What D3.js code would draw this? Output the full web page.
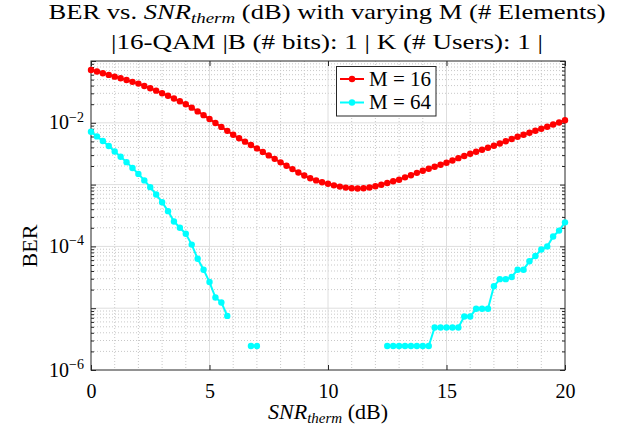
<!DOCTYPE html>
<html>
<head>
<meta charset="utf-8">
<script src="https://cdn.jsdelivr.net/npm/d3@7"></script>
<style>
	body { margin: 0; background: #fff; }
	text { font-family: "Liberation Serif", "DejaVu Serif", serif; fill: #000; }
</style>
</head>
<body>
<svg class="chart"></svg>
<script>

// SNR_therm (dB), one point every 0.25 dB
var snrValues = [
	0, 0.25, 0.5, 0.75, 1, 1.25, 1.5, 1.75, 2, 2.25, 2.5, 2.75, 3, 3.25, 3.5, 3.75,
	4, 4.25, 4.5, 4.75, 5, 5.25, 5.5, 5.75, 6, 6.25, 6.5, 6.75, 7, 7.25, 7.5, 7.75,
	8, 8.25, 8.5, 8.75, 9, 9.25, 9.5, 9.75, 10, 10.25, 10.5, 10.75, 11, 11.25, 11.5, 11.75,
	12, 12.25, 12.5, 12.75, 13, 13.25, 13.5, 13.75, 14, 14.25, 14.5, 14.75, 15, 15.25, 15.5, 15.75,
	16, 16.25, 16.5, 16.75, 17, 17.25, 17.5, 17.75, 18, 18.25, 18.5, 18.75, 19, 19.25, 19.5, 19.75, 20
];

// BER for M = 16
var berM16 = [
	0.0716, 0.0676, 0.0635, 0.0596, 0.0558, 0.0525, 0.0492, 0.0460, 0.0431, 0.0395, 0.0362, 0.0331,
	0.0301, 0.0274, 0.0247, 0.0223, 0.0200, 0.0176, 0.0153, 0.0133, 0.0115, 0.00993, 0.00859, 0.00741,
	0.00640, 0.00562, 0.00495, 0.00437, 0.00385, 0.00338, 0.00297, 0.00261, 0.00229, 0.00202, 0.00178, 0.00157,
	0.00140, 0.00127, 0.00117, 0.00109, 0.00103, 0.000973, 0.000929, 0.000895, 0.000871, 0.000863, 0.000871, 0.000896,
	0.000940, 0.000993, 0.00106, 0.00113, 0.00120, 0.00131, 0.00142, 0.00155, 0.00168, 0.00181, 0.00195, 0.00210,
	0.00226, 0.00246, 0.00268, 0.00291, 0.00316, 0.00340, 0.00366, 0.00395, 0.00426, 0.00462, 0.00504, 0.00547,
	0.00594, 0.00640, 0.00690, 0.00743, 0.00800, 0.00865, 0.00938, 0.0101, 0.0110
];

// BER for M = 64 (null = no errors counted, not drawn on log axis)
var berM64 = [
	7.16e-3, 6.03e-3, 5.07e-3, 4.22e-3, 3.44e-3, 2.82e-3, 2.31e-3, 1.86e-3, 1.49e-3, 1.17e-3, 9.1e-4, 6.9e-4,
	5.19e-4, 3.72e-4, 2.53e-4, 2.00e-4, 1.60e-4, 1.07e-4, 6.3e-5, 4.2e-5, 2.65e-5, 1.49e-5, 1.24e-5, 7.5e-6,
	null, null, null, 2.44e-6, 2.44e-6,
	null, null, null, null, null, null, null, null, null, null, null,
	null, null, null, null, null, null, null, null, null, null,
	2.44e-6, 2.44e-6, 2.44e-6, 2.44e-6, 2.44e-6, 2.44e-6, 2.44e-6, 2.44e-6,
	4.88e-6, 4.88e-6, 4.88e-6, 4.88e-6, 4.88e-6,
	7.32e-6, 7.32e-6,
	9.77e-6, 9.77e-6, 9.77e-6,
	2.26e-5, 2.95e-5, 2.95e-5, 3.2e-5, 4.2e-5, 4.2e-5, 5.75e-5, 7.0e-5, 8.9e-5, 1.0e-4, 1.45e-4, 1.8e-4, 2.45e-4
];

var seriesNames = ["M = 16", "M = 64"],
	seriesColors = ["#ff0000", "#00ffff"];

var xTicks = [0, 5, 10, 15, 20],
	yExponents = [-6, -4, -2];

function drawChart() {

	var svgWidth = 623,
		svgHeight = 432;

	var chart = d3.select( ".chart" )
		.attr( "width", svgWidth )
		.attr( "height", svgHeight );

	var plotLeft = 91, plotRight = 565, plotTop = 61, plotBottom = 370;

	var x = d3.scaleLinear().domain( [0, 20] ).range( [plotLeft, plotRight] );
	var y = d3.scaleLog().domain( [1e-6, 1e-1] ).range( [plotBottom, plotTop] );

	var gridColor = "#dedede",
		minorColor = "#c8c8c8",
		axisColor = "#262626";

	// minor grid (dotted)
	var minorX = d3.range( 0, 21 ).filter( function(d) { return d % 5 !== 0; } );
	var minorY = y.ticks().filter( function(d) {
		var e = Math.log10( d );
		return Math.abs( e - Math.round( e ) ) > 1e-6;
	} );

	chart.append( "g" ).selectAll( "line" )
		.data( minorX )
		.enter().append( "line" )
		.attr( "x1", function(d) { return x(d); } )
		.attr( "x2", function(d) { return x(d); } )
		.attr( "y1", plotTop ).attr( "y2", plotBottom )
		.attr( "stroke", minorColor )
		.attr( "stroke-dasharray", "1,2" );

	chart.append( "g" ).selectAll( "line" )
		.data( minorY )
		.enter().append( "line" )
		.attr( "x1", plotLeft ).attr( "x2", plotRight )
		.attr( "y1", function(d) { return y(d); } )
		.attr( "y2", function(d) { return y(d); } )
		.attr( "stroke", minorColor )
		.attr( "stroke-dasharray", "1,2" );

	// major grid
	chart.append( "g" ).selectAll( "line" )
		.data( [5, 10, 15] )
		.enter().append( "line" )
		.attr( "x1", function(d) { return x(d); } )
		.attr( "x2", function(d) { return x(d); } )
		.attr( "y1", plotTop ).attr( "y2", plotBottom )
		.attr( "stroke", gridColor );

	chart.append( "g" ).selectAll( "line" )
		.data( [-5, -4, -3, -2] )
		.enter().append( "line" )
		.attr( "x1", plotLeft ).attr( "x2", plotRight )
		.attr( "y1", function(d) { return y( Math.pow( 10, d ) ); } )
		.attr( "y2", function(d) { return y( Math.pow( 10, d ) ); } )
		.attr( "stroke", gridColor );

	// axes, ticks pointing inward
	function styleAxis( g ) {
		g.select( ".domain" ).remove();
		g.selectAll( "line" ).attr( "stroke", axisColor );
	}

	chart.append( "g" )
		.attr( "transform", "translate(0," + plotBottom + ")" )
		.call( d3.axisBottom( x ).tickValues( xTicks ).tickSize( -5 ).tickPadding( 14 ).tickFormat( d3.format( "d" ) ) )
		.call( styleAxis )
		.selectAll( "text" )
		.attr( "font-size", 20 )
		.attr( "font-family", "Liberation Serif" )
		.attr( "fill", "#000" );

	chart.append( "g" )
		.attr( "transform", "translate(0," + plotTop + ")" )
		.call( d3.axisTop( x ).tickValues( xTicks ).tickSize( -5 ).tickFormat( "" ) )
		.call( styleAxis );

	var yMajor = d3.range( -6, 0 ).map( function(d) { return Math.pow( 10, d ); } );

	[[d3.axisLeft, plotLeft], [d3.axisRight, plotRight]].forEach( function( a ) {
		chart.append( "g" )
			.attr( "transform", "translate(" + a[1] + ",0)" )
			.call( a[0]( y ).tickValues( yMajor ).tickSize( -5 ).tickFormat( "" ) )
			.call( styleAxis );
		chart.append( "g" )
			.attr( "transform", "translate(" + a[1] + ",0)" )
			.call( a[0]( y ).tickValues( minorY ).tickSize( -3 ).tickFormat( "" ) )
			.call( styleAxis );
	} );

	// y tick labels 10^k
	var yLabels = chart.append( "g" ).selectAll( "text" )
		.data( yExponents )
		.enter().append( "text" )
		.attr( "x", plotLeft - 7 )
		.attr( "y", function(d) { return y( Math.pow( 10, d ) ) + 6.5; } )
		.attr( "text-anchor", "end" )
		.attr( "font-size", 20 );
	yLabels.append( "tspan" ).text( "10" );
	yLabels.append( "tspan" )
		.attr( "dy", -7.6 )
		.attr( "font-size", 14 )
		.text( function(d) { return "\u2212" + Math.abs( d ); } );

	// box
	chart.append( "rect" )
		.attr( "x", plotLeft ).attr( "y", plotTop )
		.attr( "width", plotRight - plotLeft ).attr( "height", plotBottom - plotTop )
		.attr( "fill", "none" )
		.attr( "stroke", axisColor )
		.attr( "stroke-width", 1 );

	// series
	var series = [berM16, berM64];

	series.forEach( function( values, s ) {
		var pts = snrValues.map( function( snr, i ) { return { snr: snr, ber: values[i] }; } );

		var line = d3.line()
			.defined( function(d) { return d.ber !== null; } )
			.x( function(d) { return x( d.snr ); } )
			.y( function(d) { return y( d.ber ); } );

		chart.append( "path" )
			.datum( pts )
			.attr( "d", line )
			.attr( "fill", "none" )
			.attr( "stroke", seriesColors[s] )
			.attr( "stroke-width", 2 );

		chart.append( "g" ).selectAll( "circle" )
			.data( pts.filter( function(d) { return d.ber !== null; } ) )
			.enter().append( "circle" )
			.attr( "cx", function(d) { return x( d.snr ); } )
			.attr( "cy", function(d) { return y( d.ber ); } )
			.attr( "r", 3.2 )
			.attr( "fill", seriesColors[s] );
	} );

	// legend
	var legend = chart.append( "g" );
	legend.append( "rect" )
		.attr( "x", 336.5 ).attr( "y", 66.5 )
		.attr( "width", 99.5 ).attr( "height", 49.5 )
		.attr( "fill", "#fff" )
		.attr( "stroke", axisColor );

	seriesNames.forEach( function( name, s ) {
		var ly = 79 + s * 23.5;
		legend.append( "line" )
			.attr( "x1", 340 ).attr( "x2", 364 )
			.attr( "y1", ly ).attr( "y2", ly )
			.attr( "stroke", seriesColors[s] )
			.attr( "stroke-width", 2 );
		legend.append( "circle" )
			.attr( "cx", 352 ).attr( "cy", ly )
			.attr( "r", 3.2 )
			.attr( "fill", seriesColors[s] );
		legend.append( "text" )
			.attr( "x", 369 ).attr( "y", ly + 6.8 )
			.attr( "font-size", 20 )
			.attr( "textLength", 62 )
			.attr( "lengthAdjust", "spacingAndGlyphs" )
			.text( name );
	} );

	// titles and labels
	var cx = 327;

	var t1 = chart.append( "text" )
		.attr( "x", cx ).attr( "y", 19 )
		.attr( "text-anchor", "middle" )
		.attr( "font-size", 21 )
		.attr( "textLength", 557 )
		.attr( "lengthAdjust", "spacingAndGlyphs" );
	t1.append( "tspan" ).text( "BER vs. " );
	t1.append( "tspan" ).attr( "font-style", "italic" ).text( "SNR" );
	t1.append( "tspan" ).attr( "font-style", "italic" ).attr( "font-size", 15 ).attr( "dy", 4 ).text( "therm" );
	t1.append( "tspan" ).attr( "dy", -4 ).text( " (dB) with varying M (# Elements)" );

	chart.append( "text" )
		.attr( "x", cx ).attr( "y", 48.5 )
		.attr( "text-anchor", "middle" )
		.attr( "font-size", 21 )
		.attr( "textLength", 432 )
		.attr( "lengthAdjust", "spacingAndGlyphs" )
		.text( "|16-QAM |B (# bits): 1 | K (# Users): 1 |" );

	var xl = chart.append( "text" )
		.attr( "x", 328 ).attr( "y", 419 )
		.attr( "text-anchor", "middle" )
		.attr( "font-size", 22 );
	xl.append( "tspan" ).attr( "font-style", "italic" ).text( "SNR" );
	xl.append( "tspan" ).attr( "font-style", "italic" ).attr( "font-size", 15 ).attr( "dy", 4 ).text( "therm" );
	xl.append( "tspan" ).attr( "dy", -4 ).text( " (dB)" );

	chart.append( "text" )
		.attr( "transform", "translate(37,246) rotate(-90)" )
		.attr( "text-anchor", "middle" )
		.attr( "font-size", 22 )
		.text( "BER" );
}

drawChart();

</script>
</body>
</html>
